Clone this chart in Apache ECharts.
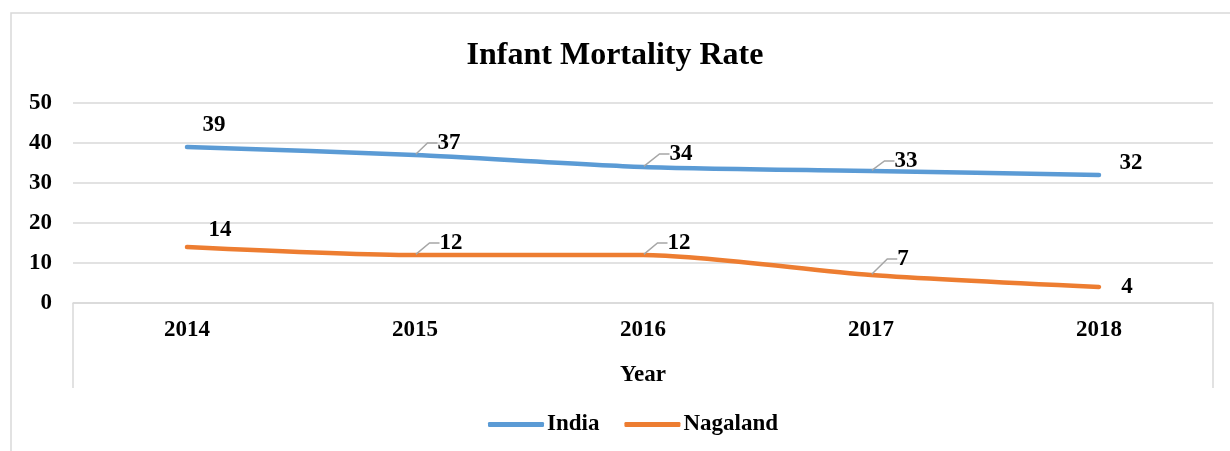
<!DOCTYPE html>
<html>
<head>
<meta charset="utf-8">
<script src="https://cdn.jsdelivr.net/npm/echarts@6/dist/echarts.min.js"></script>
<style>
html,body{margin:0;padding:0;background:#fff;}
#c{width:1230px;height:451px;}
</style>
</head>
<body>
<div id="c"></div>
<script>
// ---- data ----
const years = ['2014', '2015', '2016', '2017', '2018'];
const india = [39, 37, 34, 33, 32];
const nagaland = [14, 12, 12, 7, 4];
const seriesNames = ['India', 'Nagaland'];

// ---- styling (label placement relative to the point, leader-line flags) ----
const labelShift = [
  [[27, -22], [34, -12], [38, -13], [35, -10], [32, -12]],
  [[33, -17], [36, -12], [36, -12], [32, -16], [28, 0]]
];
const leader = [
  [false, true, true, true, false],
  [false, true, true, true, false]
];
const colors = ['#5B9BD5', '#ED7D31'];
const FONT = '"Liberation Serif", "Times New Roman", serif';
const GRID = {left: 73, right: 17, top: 103, bottom: 148};
const W = 1230, H = 451;

const chart = echarts.init(document.getElementById('c'), null, {renderer: 'canvas'});

function mkData(vals, s) {
  return vals.map((v, i) => ({value: v, labelLine: {show: leader[s][i]}}));
}

const seriesVals = [india, nagaland];
const series = seriesVals.map((vals, s) => ({
  name: seriesNames[s],
  type: 'line',
  data: mkData(vals, s),
  smooth: 0.25,
  symbol: 'circle',
  symbolSize: 2,
  itemStyle: {color: colors[s]},
  lineStyle: {width: 4.5, color: colors[s], cap: 'round'},
  label: {
    show: true,
    fontFamily: FONT,
    fontWeight: 'bold',
    fontSize: 23,
    color: '#000'
  },
  labelLine: {
    show: false,
    lineStyle: {color: '#a6a6a6', width: 1.5},
    length2: 10
  },
  labelLayout: function (p) {
    const off = labelShift[p.seriesIndex][p.dataIndex];
    const cx = p.rect.x + p.rect.width / 2;
    const cy = p.rect.y + p.rect.height / 2;
    return {x: cx + off[0], y: cy + off[1], align: 'center', verticalAlign: 'middle'};
  },
  emphasis: {disabled: true},
  animation: false
}));

const plotBottom = H - GRID.bottom;
const option = {
  backgroundColor: '#fff',
  animation: false,
  title: {
    text: 'Infant Mortality Rate',
    left: 'center',
    top: 35,
    textStyle: {fontFamily: FONT, fontWeight: 'bold', fontSize: 32, color: '#000'}
  },
  legend: {
    bottom: 10,
    left: 483,
    icon: 'roundRect',
    itemWidth: 56,
    itemHeight: 5,
    itemGap: 25,
    textStyle: {fontFamily: FONT, fontWeight: 'bold', fontSize: 23, color: '#000', padding: [0, 0, 0, -2]},
    data: seriesNames
  },
  grid: Object.assign({containLabel: false}, GRID),
  xAxis: {
    type: 'category',
    data: years,
    boundaryGap: true,
    name: 'Year',
    nameLocation: 'middle',
    nameGap: 61,
    nameTextStyle: {fontFamily: FONT, fontWeight: 'bold', fontSize: 23, color: '#000'},
    axisLine: {show: true, lineStyle: {color: '#d9d9d9', width: 1.5}},
    axisTick: {show: false},
    axisLabel: {fontFamily: FONT, fontWeight: 'bold', fontSize: 23, color: '#000', margin: 16}
  },
  yAxis: {
    type: 'value',
    min: 0,
    max: 50,
    interval: 10,
    axisLine: {show: false},
    axisTick: {show: false},
    axisLabel: {fontFamily: FONT, fontWeight: 'bold', fontSize: 23, color: '#000', margin: 21},
    splitLine: {lineStyle: {color: '#d9d9d9', width: 1.5}}
  },
  graphic: [
    {type: 'rect', silent: true, z: -10,
     shape: {x: 11, y: 13, width: W + 50, height: H + 50},
     style: {fill: null, stroke: '#d9d9d9', lineWidth: 1.5}},
    {type: 'line', silent: true,
     shape: {x1: GRID.left, y1: plotBottom, x2: GRID.left, y2: plotBottom + 85},
     style: {stroke: '#d9d9d9', lineWidth: 1.5}},
    {type: 'line', silent: true,
     shape: {x1: W - GRID.right, y1: plotBottom, x2: W - GRID.right, y2: plotBottom + 85},
     style: {stroke: '#d9d9d9', lineWidth: 1.5}}
  ],
  series: series
};
chart.setOption(option);
</script>
</body>
</html>
